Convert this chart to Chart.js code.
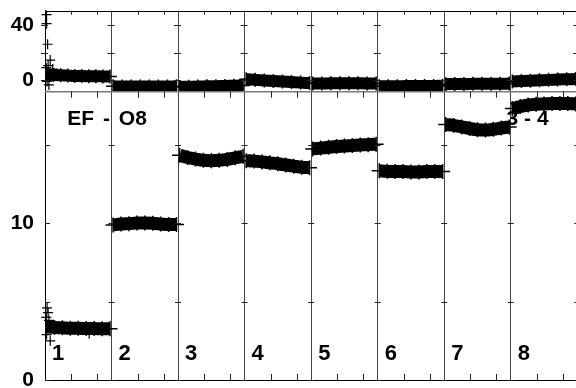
<!DOCTYPE html>
<html><head><meta charset="utf-8">
<script src="https://cdn.jsdelivr.net/npm/chart.js@4/dist/chart.umd.min.js"></script>
<style>
html,body{margin:0;padding:0;background:#fff;overflow:hidden;}
#wrap{position:relative;width:600px;height:400px;}
</style></head><body>
<div id="wrap"><canvas id="c" width="600" height="400"></canvas></div>
<script>
// ---- data ----
const segmentLabels = ['1','2','3','4','5','6','7','8'];
const upperTicks = [0, 20, 40];
const upperTickLabels = ['0', '', '40'];
const lowerTicks = [0, 5, 10, 15];
const lowerTickLabels = ['0', '', '10', ''];
const minorTicks = [1, 2];           // x ticks inside each segment
const segmentWidth = 2.56;           // x units per segment

const upperBand = [
  [4.0, 3.7, 3.4, 3.2, 3.0, 2.9, 2.8, 2.7, 2.6, 2.5],
  [-4.6, -4.7, -4.7, -4.8, -4.8, -4.7, -4.7, -4.6],
  [-5.0, -4.9, -4.8, -4.6, -4.5, -4.3, -4.2, -4.0],
  [0.5, 0.1, -0.3, -0.7, -1.1, -1.5, -1.9, -2.2],
  [-2.6, -2.5, -2.4, -2.3, -2.3, -2.4, -2.5, -2.5],
  [-4.6, -4.5, -4.5, -4.4, -4.4, -4.3, -4.3, -4.2],
  [-3.0, -2.9, -2.9, -2.8, -2.8, -2.7, -2.7, -2.6],
  [-1.1, -0.8, -0.5, -0.2, 0.1, 0.3, 0.5, 0.7]
];
const lowerBand = [
  [3.40, 3.35, 3.33, 3.30, 3.30, 3.28, 3.28, 3.27, 3.27],
  [9.90, 9.95, 9.98, 10.02, 10.02, 10.0, 9.96, 9.92, 9.92],
  [14.35, 14.2, 14.1, 14.02, 14.0, 14.02, 14.08, 14.18, 14.28],
  [14.0, 13.97, 13.92, 13.86, 13.8, 13.72, 13.65, 13.58, 13.55],
  [14.75, 14.8, 14.85, 14.9, 14.93, 14.97, 15.0, 15.02, 15.05],
  [13.35, 13.32, 13.3, 13.3, 13.28, 13.28, 13.3, 13.3, 13.3],
  [16.3, 16.25, 16.15, 16.05, 15.97, 15.95, 16.0, 16.08, 16.15],
  [17.32, 17.45, 17.55, 17.6, 17.62, 17.65, 17.65, 17.65, 17.62]
];
const upperOutliers = [
  {x:0.06, y:47.6}, {x:0.06, y:41}, {x:0.1, y:26}, {x:0.2, y:14.5},
  {x:0.05, y:9}, {x:0.12, y:10.5}, {x:0.08, y:-1}, {x:0.15, y:-3.6}, {x:0.3, y:8}
];
const lowerOutliers = [
  {x:0.08, y:4.6}, {x:0.12, y:4.3}, {x:0.05, y:4.0}, {x:0.15, y:3.8},
  {x:0.06, y:2.9}, {x:0.2, y:2.5}, {x:1.7, y:2.95}
];
const upperTitle = 'EF - O8';
const lowerTitle = '3 - 4';

// ---- chart ----
const NSEG = segmentLabels.length;
const W = segmentWidth;
const FONT = "'Liberation Sans', Arial, Helvetica, sans-serif";
function segData(values, k) {
  const n = values.length;
  return values.map((v, i) => ({x: k * W + 0.06 + i * (W - 0.12) / (n - 1), y: v}));
}
const datasets = [];
upperBand.forEach((vals, k) => datasets.push({
  type: 'line', data: segData(vals, k), yAxisID: 'yUp',
  borderColor: '#000', backgroundColor: '#000', borderWidth: 12, borderCapStyle: 'butt',
  cubicInterpolationMode: 'monotone',
  pointStyle: 'cross', pointRadius: 7, pointBorderWidth: 1.5, pointBorderColor: '#000'
}));
lowerBand.forEach((vals, k) => datasets.push({
  type: 'line', data: segData(vals, k), yAxisID: 'yLow',
  borderColor: '#000', backgroundColor: '#000', borderWidth: 13, borderCapStyle: 'butt',
  cubicInterpolationMode: 'monotone',
  pointStyle: 'cross', pointRadius: 7.5, pointBorderWidth: 1.5, pointBorderColor: '#000'
}));
datasets.push({
  type: 'scatter', data: upperOutliers, yAxisID: 'yUp', clip: {left: 8, right: 0, top: 0, bottom: 0},
  pointStyle: 'cross', pointRadius: 5, pointBorderWidth: 1.2, borderColor: '#000'
});
datasets.push({
  type: 'scatter', data: lowerOutliers, yAxisID: 'yLow', clip: {left: 8, right: 0, top: 0, bottom: 0},
  pointStyle: 'cross', pointRadius: 5, pointBorderWidth: 1.2, borderColor: '#000'
});

const decor = {
  id: 'decor',
  afterDatasetsDraw(chart) {
    const ctx = chart.ctx, ca = chart.chartArea;
    const x = chart.scales.x, yUp = chart.scales.yUp, yLow = chart.scales.yLow;
    ctx.save();
    // separator between panels
    ctx.strokeStyle = '#7a7a7a'; ctx.lineWidth = 1.5;
    ctx.beginPath(); ctx.moveTo(ca.left, yUp.bottom); ctx.lineTo(ca.right, yUp.bottom); ctx.stroke();
    // frame top
    ctx.strokeStyle = '#000'; ctx.lineWidth = 1;
    ctx.beginPath(); ctx.moveTo(ca.left, Math.round(ca.top) + 0.5); ctx.lineTo(ca.right, Math.round(ca.top) + 0.5); ctx.stroke();
    // x minor ticks
    ctx.strokeStyle = '#222'; ctx.lineWidth = 1;
    for (let k = 0; k < NSEG; k++) {
      for (const m of minorTicks) {
        const px = Math.round(x.getPixelForValue(k * W + m)) + 0.5;
        ctx.beginPath();
        ctx.moveTo(px, yUp.top); ctx.lineTo(px, yUp.top + 4);
        ctx.moveTo(px, yLow.top); ctx.lineTo(px, yLow.top + 6);
        ctx.moveTo(px, yLow.bottom); ctx.lineTo(px, yLow.bottom - 6);
        ctx.stroke();
      }
    }
    // y ticks on separators
    for (let k = 0; k <= NSEG; k++) {
      const px = x.getPixelForValue(k * W);
      for (const v of upperTicks) {
        const py = Math.round(yUp.getPixelForValue(v)) + 0.5;
        ctx.beginPath(); ctx.moveTo(px - 4, py); ctx.lineTo(px + 3, py); ctx.stroke();
      }
      for (const v of lowerTicks) {
        const py = Math.round(yLow.getPixelForValue(v)) + 0.5;
        ctx.beginPath();
        if (k === 0) { ctx.moveTo(px, py); ctx.lineTo(px + 5, py); }
        else { ctx.moveTo(px - 3, py); ctx.lineTo(px + 3, py); }
        ctx.stroke();
      }
    }
    // texts
    ctx.fillStyle = '#000';
    ctx.font = 'bold 22px ' + FONT;
    ctx.textAlign = 'left'; ctx.textBaseline = 'alphabetic';
    segmentLabels.forEach((lab, k) => {
      ctx.fillText(lab, x.getPixelForValue(k * W) + 7, yLow.getPixelForValue(1.28));
    });
    ctx.font = 'bold 21px ' + FONT;
    try { ctx.wordSpacing = '3px'; } catch (e) {}
    ctx.fillText(upperTitle, x.getPixelForValue(0.86), yLow.getPixelForValue(16.3));
    try { ctx.wordSpacing = '0px'; } catch (e) {}
    ctx.fillText(lowerTitle, x.getPixelForValue(17.76), yLow.getPixelForValue(16.25));
    ctx.restore();
  }
};

const noPad = s => { s.width = 45; s.paddingTop = 0; s.paddingBottom = 0; };

new Chart(document.getElementById('c'), {
  data: {datasets},
  options: {
    responsive: false, animation: false, devicePixelRatio: 1,
    layout: {padding: {left: 0, top: 10.7, right: 22.7, bottom: 20}},
    plugins: {legend: {display: false}, tooltip: {enabled: false}},
    scales: {
      x: {
        type: 'linear', min: 0, max: NSEG * W,
        afterBuildTicks: s => { s.ticks = Array.from({length: NSEG + 1}, (_, k) => ({value: k * W})); },
        ticks: {display: false},
        grid: {color: '#444', lineWidth: 1, drawTicks: false},
        border: {display: true, color: '#000', width: 1},
        afterFit: s => { s.height = 0; s.paddingLeft = 0; s.paddingRight = 0; }
      },
      yLow: {
        type: 'linear', position: 'left', stack: 'panels', stackWeight: 288.3,
        min: 0, max: 18.4,
        afterBuildTicks: s => { s.ticks = lowerTicks.map(v => ({value: v})); },
        ticks: {autoSkip: false, padding: 11, color: '#000', font: {family: FONT, size: 21, weight: 'bold'},
          callback: v => lowerTickLabels[lowerTicks.indexOf(v)]},
        grid: {drawOnChartArea: false, drawTicks: false},
        border: {display: true, color: '#000', width: 1},
        afterFit: noPad
      },
      yUp: {
        type: 'linear', position: 'left', stack: 'panels', stackWeight: 81,
        min: -8.5, max: 50.4,
        afterBuildTicks: s => { s.ticks = upperTicks.map(v => ({value: v})); },
        ticks: {autoSkip: false, padding: 11, color: '#000', font: {family: FONT, size: 21, weight: 'bold'},
          callback: v => upperTickLabels[upperTicks.indexOf(v)]},
        grid: {drawOnChartArea: false, drawTicks: false},
        border: {display: true, color: '#000', width: 1},
        afterFit: noPad
      }
    }
  },
  plugins: [decor]
});
</script>
</body></html>
